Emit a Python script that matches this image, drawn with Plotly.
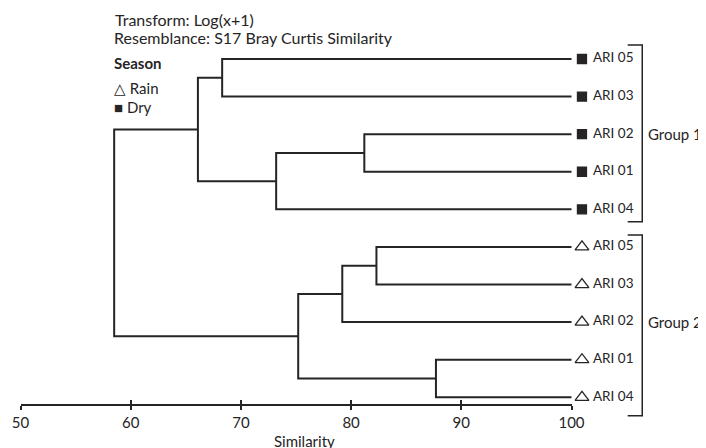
import plotly.graph_objects as go

# ---------------- data ----------------
leaf_labels = ["ARI 05", "ARI 03", "ARI 02", "ARI 01", "ARI 04",
               "ARI 05", "ARI 03", "ARI 02", "ARI 01", "ARI 04"]
leaf_season = ["Dry", "Dry", "Dry", "Dry", "Dry",
               "Rain", "Rain", "Rain", "Rain", "Rain"]
# merges: (child_a, child_b, similarity); leaves 0-9, clusters 10+
merge_a = [0, 2, 11, 10, 5, 14, 8, 15, 13]
merge_b = [1, 3, 4, 12, 6, 7, 9, 16, 17]
merge_sim = [68.3, 81.2, 73.2, 66.1, 82.3, 79.2, 87.7, 75.2, 58.5]
group_names = ["Group 1", "Group 2"]
group_first = [0, 5]
group_last = [4, 9]
tick_vals = [50, 60, 70, 80, 90, 100]

FONT = "Lato"
INK = "#262425"
W, H = 698, 440          # page has an 8px body margin


def px(x):               # page pixel -> paper x
    return (x - 8) / W


def py(y):               # page pixel -> paper y
    return 1 - (y - 8) / H


# ---------------- tree geometry ----------------
n = len(leaf_labels)
node_x = [100.0] * n
node_y = [float(i) for i in range(n)]
seg_x, seg_y = [], []
for a, b, s in zip(merge_a, merge_b, merge_sim):
    seg_x += [node_x[a], s, s, node_x[b], None]
    seg_y += [node_y[a], node_y[a], node_y[b], node_y[b], None]
    node_x.append(s)
    node_y.append((node_y[a] + node_y[b]) / 2)

fig = go.Figure()
fig.add_trace(go.Scatter(x=seg_x, y=seg_y, mode="lines",
                         line=dict(color=INK, width=2), hoverinfo="skip",
                         showlegend=False))

sym_map = {"Dry": "square", "Rain": "triangle-up-open"}
size_map = {"Dry": 9, "Rain": 12}
for season in ["Dry", "Rain"]:
    idx = [i for i in range(n) if leaf_season[i] == season]
    fig.add_trace(go.Scatter(
        x=[100.95] * len(idx), y=[node_y[i] for i in idx], mode="markers",
        marker=dict(symbol=sym_map[season], size=size_map[season], color=INK,
                    line=dict(color=INK, width=1.3)),
        showlegend=False, hoverinfo="skip"))

fig.add_trace(go.Scatter(
    x=[101.95] * n, y=node_y[:n], mode="text", text=leaf_labels,
    textposition="middle right",
    textfont=dict(family=FONT, size=13.5, color=INK),
    showlegend=False, hoverinfo="skip"))

# group brackets
pad_top = [0.37, 0.32]
pad_bot = [0.33, 0.49]
for k, (name, f, l) in enumerate(zip(group_names, group_first, group_last)):
    top, bot = f - pad_top[k], l + pad_bot[k]
    fig.add_trace(go.Scatter(
        x=[105.1, 106.42, 106.42, 105.1], y=[top, top, bot, bot],
        mode="lines", line=dict(color=INK, width=1.5),
        showlegend=False, hoverinfo="skip"))
    fig.add_annotation(x=106.42, y=(f + l) / 2, text=name, showarrow=False,
                       xanchor="left", xshift=4, yanchor="middle",
                       font=dict(family=FONT, size=15, color=INK))

# axes: tree axis (hidden) spans whole figure; the drawn axis spans 50..100
axis_pos = py(404.5)
xr = [48.866, 112.205]
ax_dom = [px(20.5), px(571.5)]
fig.update_layout(
    width=W, height=H,
    margin=dict(l=0, r=0, t=0, b=0, autoexpand=False),
    paper_bgcolor="white", plot_bgcolor="rgba(0,0,0,0)",
    xaxis=dict(range=xr, visible=False, showgrid=False, zeroline=False),
    xaxis2=dict(range=[50, 100], domain=ax_dom, anchor="free",
                position=axis_pos,
                tickvals=tick_vals, ticks="outside", ticklen=4.5, tickwidth=2,
                tickcolor=INK, showline=True, linewidth=2, linecolor=INK,
                showgrid=False, zeroline=False,
                tickfont=dict(family=FONT, size=15, color=INK)),
    xaxis3=dict(range=[50, 100], domain=ax_dom, anchor="free",
                position=axis_pos,
                tickvals=tick_vals, ticks="inside", ticklen=4.5, tickwidth=2,
                tickcolor=INK, showticklabels=False, showline=False,
                showgrid=False, zeroline=False),
    yaxis=dict(range=[10.349, -1.3567], visible=False, showgrid=False),
    showlegend=False,
)
fig.add_trace(go.Scatter(x=[None], y=[None], xaxis="x2", showlegend=False))
fig.add_trace(go.Scatter(x=[None], y=[None], xaxis="x3", showlegend=False))

ann_font = dict(family=FONT, size=15, color=INK)
title_font = dict(family=FONT, size=16, color=INK)
fig.add_annotation(x=px(304), y=py(441), xref="paper", yref="paper",
                   text="Similarity", showarrow=False, xanchor="center",
                   yanchor="middle", font=ann_font)
fig.add_annotation(x=px(112.5), y=py(20), xref="paper", yref="paper",
                   text="Transform: Log(x+1)", showarrow=False,
                   xanchor="left", yanchor="middle", font=title_font)
fig.add_annotation(x=px(111.8), y=py(37), xref="paper", yref="paper",
                   text="Resemblance: S17 Bray Curtis Similarity",
                   showarrow=False, xanchor="left", yanchor="middle",
                   font=title_font)
fig.add_annotation(x=px(112), y=py(63), xref="paper", yref="paper",
                   text="<b>Season</b>", showarrow=False, xanchor="left",
                   yanchor="middle", font=ann_font)
fig.add_annotation(x=px(112), y=py(87.5), xref="paper", yref="paper",
                   text="△ Rain", showarrow=False, xanchor="left",
                   yanchor="middle", font=ann_font)
fig.add_annotation(x=px(112), y=py(106.5), xref="paper", yref="paper",
                   text="■ Dry", showarrow=False, xanchor="left",
                   yanchor="middle", font=ann_font)

fig.write_html("out.html")
